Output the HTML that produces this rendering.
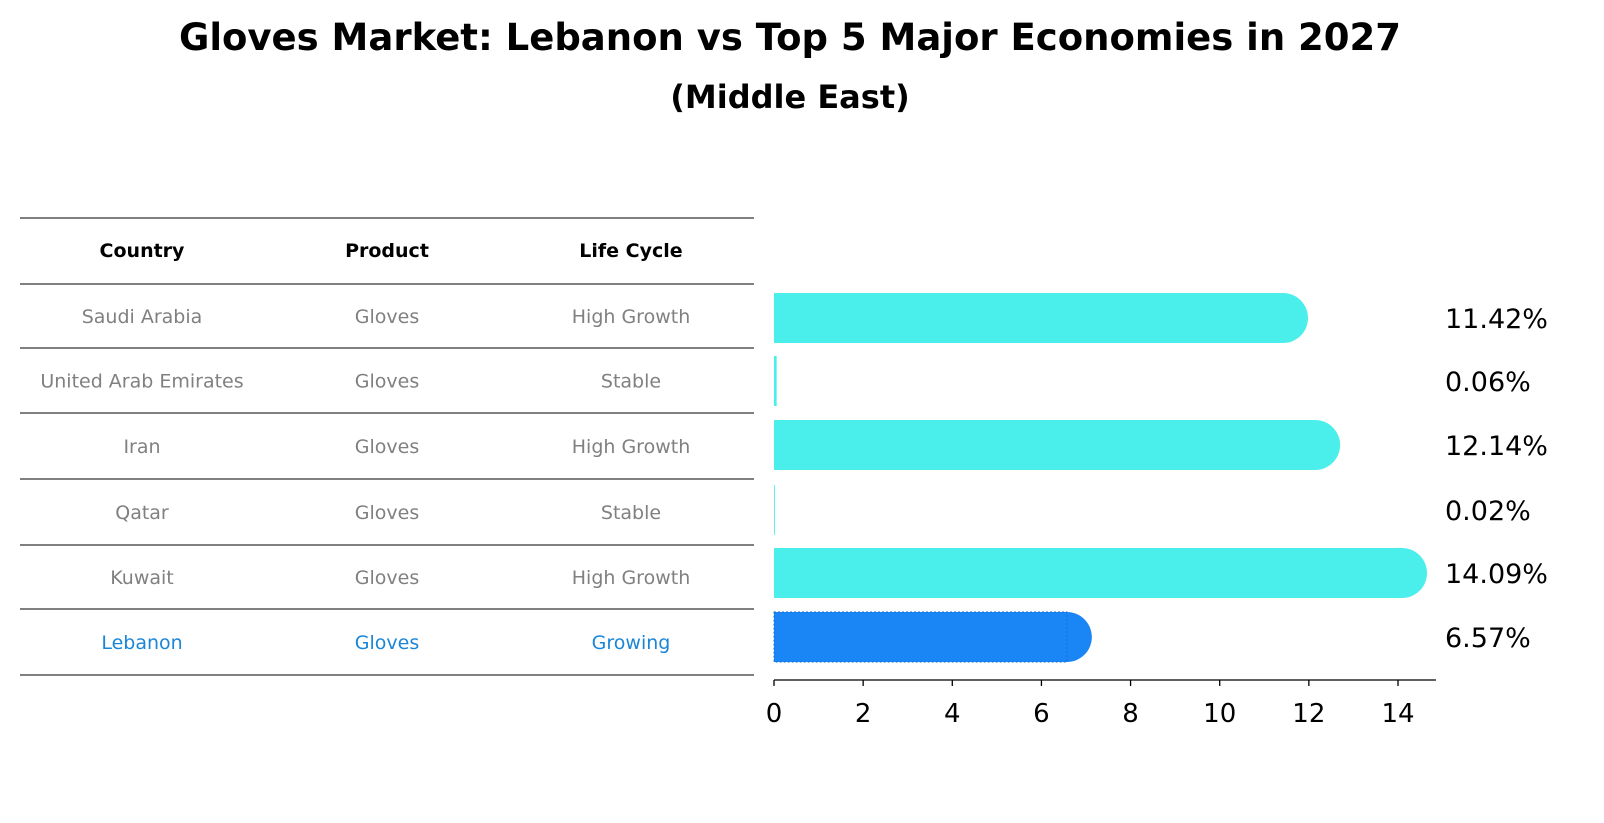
<!DOCTYPE html>
<html><head><meta charset="utf-8"><style>
body{margin:0;background:#fff;font-family:"DejaVu Sans","Liberation Sans",sans-serif;}
svg{display:block}
</style></head><body>
<svg id="c" width="1604" height="823" xmlns="http://www.w3.org/2000/svg">
<text x="790" y="50" text-anchor="middle" font-size="37" font-weight="bold">Gloves Market: Lebanon vs Top 5 Major Economies in 2027</text>
<text x="790" y="108" text-anchor="middle" font-size="32" font-weight="bold">(Middle East)</text>
<g id="tbl"></g>
<g id="bars"></g>
</svg>
<script>
const countries=["Saudi Arabia","United Arab Emirates","Iran","Qatar","Kuwait","Lebanon"];
const products=["Gloves","Gloves","Gloves","Gloves","Gloves","Gloves"];
const cycles=["High Growth","Stable","High Growth","Stable","High Growth","Growing"];
const values=[11.42,0.06,12.14,0.02,14.09,6.57];
const ticks=[0,2,4,6,8,10,12,14];
const NS="http://www.w3.org/2000/svg";
function mk(t,a,p){const e=document.createElementNS(NS,t);for(const k in a)e.setAttribute(k,a[k]);p.appendChild(e);return e;}
const tbl=document.getElementById('tbl'),bars=document.getElementById('bars');
const lines=[218,284,348,413,479,545,609,675];
lines.forEach((y,i)=>{const l=mk('line',{x1:20,x2:754,y1:y,y2:y,stroke:'#000','stroke-width':1},tbl);

});
const cx=[142,387,631];
["Country","Product","Life Cycle"].forEach((h,j)=>{const t=mk('text',{x:cx[j],y:257,'text-anchor':'middle','font-size':19,'font-weight':'bold'},tbl);t.textContent=h;

});
countries.forEach((c,i)=>{const y=(lines[i+1]+lines[i+2])/2+7;const col=i==5?'#1a86d8':'#808080';
[c,products[i],cycles[i]].forEach((v,j)=>{const t=mk('text',{x:cx[j],y:y,'text-anchor':'middle','font-size':19,fill:col},tbl);t.textContent=v;

});});
const x0=774,sc=(1398-774)/14;const X=v=>x0+v*sc;
const centers=[318,381,445,510,573,637],h=50,r=25;
values.forEach((v,i)=>{const c=centers[i],col=i==5?'#1a86f5':'#4aeeeb';
const w=X(v)-x0;
const g=mk('g',{},bars);


mk('rect',{x:x0,y:c-h/2,width:Math.max(w,0.5),height:h,fill:col},g);
if(v>1) mk('circle',{cx:X(v),cy:c,r:r,fill:col},g);
if(i==5){mk('rect',{x:x0,y:c-h/2,width:w,height:h,fill:'none',stroke:'#1570d0','stroke-dasharray':'2,2','stroke-width':1},g);}
const t=mk('text',{x:1445,y:c+10,'font-size':27},bars);t.textContent=v.toFixed(2)+'%';

});
const ax=mk('line',{x1:x0,x2:1436,y1:680,y2:680,stroke:'#000','stroke-width':1.3},bars);


ticks.forEach(t=>{mk('line',{x1:X(t),x2:X(t),y1:680,y2:686,stroke:'#000','stroke-width':1.3},bars);
const l=mk('text',{x:X(t),y:722,'text-anchor':'middle','font-size':26},bars);l.textContent=t;

});
</script>
</body></html>
